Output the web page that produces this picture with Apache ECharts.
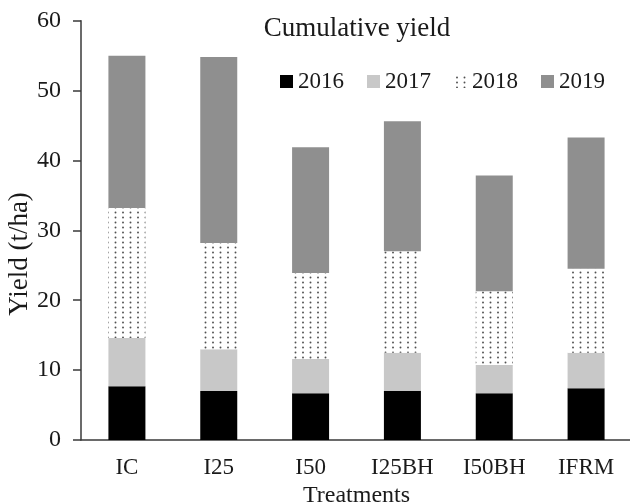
<!DOCTYPE html>
<html>
<head>
<meta charset="utf-8">
<script src="https://cdn.jsdelivr.net/npm/echarts@6/dist/echarts.min.js"></script>
<style>
  html, body { margin: 0; padding: 0; background: #ffffff; }
  #chart { width: 630px; height: 504px; }
</style>
</head>
<body>
<div id="chart"></div>
<script>
// Treatments on the x axis and yearly yield (t/ha), stacked into a cumulative total
const categories = ['IC', 'I25', 'I50', 'I25BH', 'I50BH', 'IFRM'];
const yield2016 = [7.7, 7.0, 6.7, 7.05, 6.7, 7.4];
const yield2017 = [6.9, 6.0, 4.9, 5.45, 4.05, 5.1];
const yield2018 = [18.6, 15.2, 12.3, 14.5, 10.55, 12.0];
const yield2019 = [21.8, 26.6, 18.0, 18.6, 16.55, 18.8];
const yTicks = [0, 10, 20, 30, 40, 50, 60];

const FONT = '"Liberation Serif", "DejaVu Serif", serif';

// Dotted fill for the 2018 segments: small dark dots on white
function dotPattern() {
  const c = document.createElement('canvas');
  c.width = 15; c.height = 10;
  const ctx = c.getContext('2d');
  ctx.fillStyle = '#ffffff';
  ctx.fillRect(0, 0, 15, 10);
  ctx.fillStyle = '#505050';
  [[3, 2.5], [10.5, 2.5], [3, 7.5], [10.5, 7.5]].forEach(([x, y]) => {
    ctx.beginPath();
    ctx.arc(x, y, 0.95, 0, Math.PI * 2);
    ctx.fill();
  });
  return c;
}

const chart = echarts.init(document.getElementById('chart'), null, { renderer: 'canvas' });

function barSeries(name, data, color) {
  return {
    name: name,
    type: 'bar',
    stack: 'total',
    data: data,
    barWidth: 37,
    itemStyle: { color: color },
    emphasis: { disabled: true }
  };
}

chart.setOption({
  animation: false,
  backgroundColor: '#ffffff',
  textStyle: { fontFamily: FONT, color: '#1a1a1a' },
  title: {
    text: 'Cumulative yield',
    left: 352,
    top: 10,
    textAlign: 'center',
    textStyle: { fontFamily: FONT, fontSize: 27, fontWeight: 'normal', color: '#1a1a1a' }
  },
  legend: {
    left: 275,
    top: 65,
    itemWidth: 13,
    itemHeight: 13,
    itemGap: 23,
    icon: 'rect',
    textStyle: { fontFamily: FONT, fontSize: 23, color: '#1a1a1a' },
    data: ['2016', '2017', '2018', '2019']
  },
  grid: {
    left: 81, top: 20.7, width: 551, height: 419.3,
    containLabel: false,
    outerBoundsMode: 'none'
  },
  xAxis: {
    type: 'category',
    data: categories,
    name: 'Treatments',
    nameLocation: 'middle',
    nameGap: 37,
    nameTextStyle: { fontFamily: FONT, fontSize: 24, color: '#1a1a1a' },
    axisLine: { lineStyle: { color: '#3a3a3a', width: 1.5 } },
    axisTick: { alignWithLabel: true, length: 5, lineStyle: { color: '#3a3a3a', width: 1.5 } },
    axisLabel: { fontFamily: FONT, fontSize: 23, color: '#1a1a1a', margin: 16 }
  },
  yAxis: {
    type: 'value',
    min: yTicks[0],
    max: yTicks[yTicks.length - 1],
    interval: 10,
    axisLine: { show: true, lineStyle: { color: '#3a3a3a', width: 1.5 } },
    axisTick: { show: true, length: 8, lineStyle: { color: '#3a3a3a', width: 1.5 } },
    splitLine: { show: false },
    axisLabel: { fontFamily: FONT, fontSize: 24, color: '#1a1a1a', margin: 20 }
  },
  graphic: [{
    type: 'text',
    x: 20,
    y: 254,
    rotation: Math.PI / 2,
    style: {
      text: 'Yield (t/ha)',
      font: '27px ' + FONT,
      fill: '#1a1a1a',
      textAlign: 'center',
      textVerticalAlign: 'middle'
    }
  }],
  series: [
    barSeries('2016', yield2016, '#000000'),
    barSeries('2017', yield2017, '#c8c8c8'),
    barSeries('2018', yield2018, { image: dotPattern(), repeat: 'repeat' }),
    barSeries('2019', yield2019, '#8f8f8f')
  ]
});
</script>
</body>
</html>
